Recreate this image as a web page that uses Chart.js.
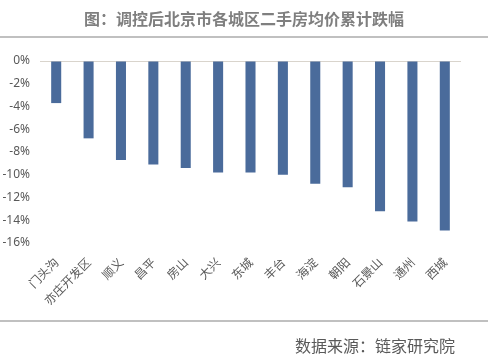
<!DOCTYPE html>
<html>
<head>
<meta charset="utf-8">
<script src="https://cdn.jsdelivr.net/npm/chart.js@4/dist/chart.umd.min.js"></script>
<style>
html,body{margin:0;padding:0;background:#fff;}
#wrap{position:relative;width:488px;height:360px;overflow:hidden;font-family:"Noto Sans CJK SC","Noto Sans",sans-serif;}
#title{position:absolute;left:0;top:7px;width:488px;text-align:center;font-size:16px;font-weight:bold;color:#7f7f7f;line-height:22px;}
.rule{position:absolute;left:0;width:488px;height:2px;background:#c0c0c0;}
#source{position:absolute;right:33px;top:334px;font-size:16px;color:#595959;line-height:22px;}
canvas{position:absolute;left:0;top:0;}
</style>
</head>
<body>
<div id="wrap">
  <canvas id="c" width="488" height="360"></canvas>
  <div id="title">图：调控后北京市各城区二手房均价累计跌幅</div>
  <div class="rule" style="top:36px"></div>
  <div class="rule" style="top:320px"></div>
  <div id="source">数据来源：链家研究院</div>
</div>
<script>
const categories = ["门头沟","亦庄开发区","顺义","昌平","房山","大兴","东城","丰台","海淀","朝阳","石景山","通州","西城"];
const values = [-3.7, -6.8, -8.7, -9.1, -9.4, -9.8, -9.8, -10.0, -10.8, -11.1, -13.2, -14.1, -14.9];
const yMin = -16, yMax = 0, yStep = 2;

new Chart(document.getElementById('c'), {
  type: 'bar',
  data: {
    labels: categories,
    datasets: [{
      data: values,
      backgroundColor: '#4a6b9b',
      borderWidth: 0,
      categoryPercentage: 1,
      barPercentage: 0.31
    }]
  },
  options: {
    responsive: false,
    animation: false,
    devicePixelRatio: 1,
    layout: { padding: { left: 0, right: 27, top: 61, bottom: 0 } },
    plugins: { legend: { display: false }, tooltip: { enabled: false } },
    scales: {
      x: {
        position: 'bottom',
        grid: { display: false, drawTicks: false },
        border: { display: false },
        ticks: {
          color: '#595959',
          font: { size: 12, family: '"Noto Sans CJK SC", sans-serif' },
          minRotation: 45, maxRotation: 45,
          autoSkip: false,
          padding: 12
        },
        afterFit: s => { s.height = 117; }
      },
      y: {
        min: yMin, max: yMax,
        grid: {
          drawTicks: false,
          color: ctx => ctx.tick && ctx.tick.value === 0 ? '#d9d4cc' : 'rgba(0,0,0,0)',
          lineWidth: 1
        },
        border: { display: false },
        ticks: {
          stepSize: yStep,
          color: '#595959',
          font: { size: 12, family: '"Noto Sans", sans-serif' },
          padding: 10,
          callback: v => v + '%'
        },
        afterFit: s => { s.width = 40; }
      }
    }
  }
});
</script>
</body>
</html>
